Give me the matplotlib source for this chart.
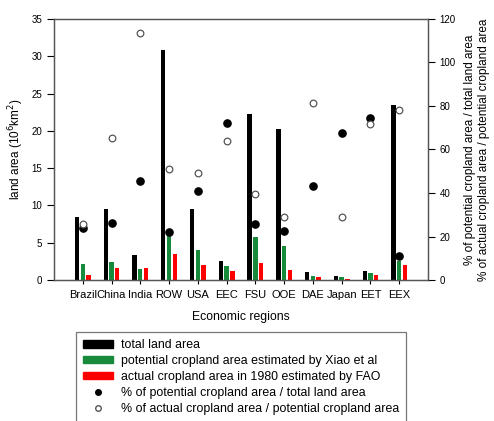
import matplotlib
matplotlib.use("Agg")
import matplotlib.pyplot as plt
from matplotlib.patches import Patch
from matplotlib.lines import Line2D
import numpy as np

plt.rcParams['font.family'] = ['Liberation Sans', 'DejaVu Sans']

regions = ['Brazil', 'China', 'India', 'ROW', 'USA', 'EEC', 'FSU', 'OOE', 'DAE', 'Japan', 'EET', 'EEX']
total_land = [8.5, 9.5, 3.3, 30.8, 9.5, 2.55, 22.3, 20.3, 1.05, 0.5, 1.2, 23.4]
potential = [2.15, 2.4, 1.45, 6.25, 4.0, 1.9, 5.8, 4.6, 0.5, 0.35, 0.9, 2.5]
actual = [0.65, 1.6, 1.6, 3.5, 2.0, 1.15, 2.3, 1.35, 0.35, 0.1, 0.65, 2.0]
pct_pot_total = [23.9, 26.2, 45.4, 22.1, 40.9, 72.3, 25.9, 22.4, 43.2, 67.7, 74.5, 10.9]
pct_act_pot = [25.7, 65.4, 113.7, 51.2, 49.3, 63.8, 39.5, 28.8, 81.2, 28.8, 71.6, 78.2]

green = '#178a3c'
x = np.arange(len(regions))
w = 0.15

fig = plt.figure(figsize=(4.94, 4.21), dpi=100)
ax = fig.add_axes([0.1093, 0.3349, 0.757, 0.62])
ax.bar(x - 0.2, total_land, w, color='black', zorder=2)
ax.bar(x, potential, w, color=green, zorder=2)
ax.bar(x + 0.2, actual, w, color='red', zorder=2)
ax.set_xlim(-1, 12)
ax.set_ylim(0, 35)
ax.set_yticks(range(0, 36, 5))
ax.set_xticks(x)
ax.set_xticklabels(regions)
ax.set_ylabel('land area (10$^6$km$^2$)', fontsize=8.5)
ax.set_xlabel('Economic regions', fontsize=8.8, labelpad=8)
ax.tick_params(axis='x', length=3, width=0.8, labelsize=8, pad=4)
ax.tick_params(axis='y', length=5, width=0.8, labelsize=7)
for s in ax.spines.values():
    s.set_color('#555555')
    s.set_linewidth(0.9)

ax2 = ax.twinx()
ax2.plot(x, pct_pot_total, 'o', color='black', markersize=5.2, zorder=5)
ax2.plot(x, pct_act_pot, 'o', markerfacecolor='white', markeredgecolor='#555555',
         markeredgewidth=0.9, markersize=4.8, zorder=5)
ax2.set_ylim(0, 120)
ax2.set_yticks(range(0, 121, 20))
ax2.tick_params(axis='y', length=5, width=0.8, labelsize=7)
ax2.set_ylabel('% of potential cropland area / total land area\n'
               '% of actual cropland area / potential cropland area', fontsize=8.5, labelpad=6)
for s in ax2.spines.values():
    s.set_color('#555555')
    s.set_linewidth(0.9)

handles = [
    Patch(facecolor='black', edgecolor='black'),
    Patch(facecolor=green, edgecolor=green),
    Patch(facecolor='red', edgecolor='red'),
    Line2D([], [], marker='o', linestyle='none', color='black', markersize=4),
    Line2D([], [], marker='o', linestyle='none', markerfacecolor='white',
           markeredgecolor='#555555', markersize=4),
]
labels = [
    'total land area',
    'potential cropland area estimated by Xiao et al',
    'actual cropland area in 1980 estimated by FAO',
    '% of potential cropland area / total land area',
    '% of actual cropland area / potential cropland area',
]
leg = fig.legend(handles, labels, loc='upper left', bbox_to_anchor=(0.154, 0.212),
                 borderaxespad=0, fontsize=8.9, frameon=True, fancybox=False,
                 edgecolor='#555555', handlelength=2.4, handleheight=0.55,
                 labelspacing=0.32, borderpad=0.6, handletextpad=0.6)
leg.get_frame().set_linewidth(0.9)

fig.savefig('out.png', dpi=100)
